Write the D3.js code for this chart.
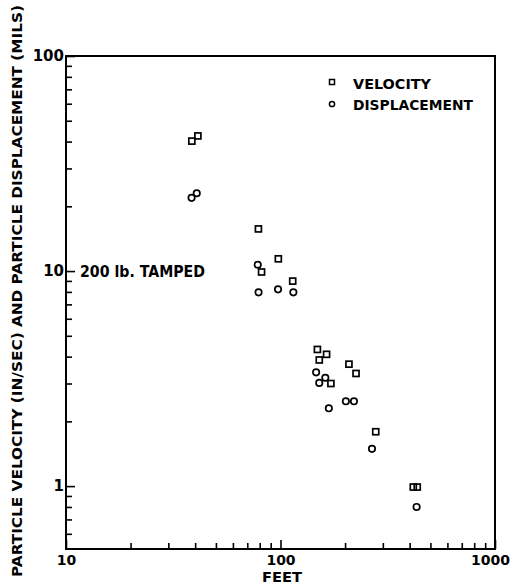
<!DOCTYPE html>
<html>
<head>
<meta charset="utf-8">
<script src="https://cdn.jsdelivr.net/npm/d3@7"></script>
<style>
  html, body { margin: 0; padding: 0; background: #fff; }
  svg { display: block; }
  text { font-family: "DejaVu Sans", "Liberation Sans", sans-serif; font-weight: bold; fill: #000; }
</style>
</head>
<body>
<script>
// ---- data ----
const velocityFeet   = [38.6, 41.2, 78.9, 97.7, 81.6, 114, 148.6, 164, 151.6, 208.5, 225, 171.8, 278, 416, 434];
const velocityValues = [40.2, 42.5, 15.7, 11.4, 9.9, 8.98, 4.32, 4.10, 3.86, 3.69, 3.34, 3.0, 1.79, 0.99, 0.99];
const displacementFeet   = [38.5, 40.7, 78.3, 79, 97.4, 114.8, 146.6, 161.8, 151.6, 201.7, 220, 168, 267, 431];
const displacementValues = [21.9, 23.0, 10.7, 7.96, 8.22, 7.96, 3.38, 3.19, 3.02, 2.48, 2.48, 2.30, 1.49, 0.80];
const xDomain = [10, 1000];
const yDomain = [0.51, 100];
const xMajorTicks = [10, 100, 1000];
const xMajorLabels = ["10", "100", "1000"];
const yMajorTicks = [1, 10, 100];
const yMajorLabels = ["1", "10", "100"];
const minorMultipliers = [2, 3, 4, 5, 6, 7, 8, 9];
const legendLabels = ["VELOCITY", "DISPLACEMENT"];
const annotationText = "200 lb. TAMPED";
const xTitle = "FEET";
const yTitle = "PARTICLE VELOCITY  (IN/SEC) AND PARTICLE DISPLACEMENT (MILS)";

// ---- layout ----
const W = 514, H = 585;
const pLeft = 66, pRight = 495, pTop = 56, pBottom = 549;
const numFont = "Liberation Sans";

const svg = d3.select("body").append("svg").attr("width", W).attr("height", H);

const x = d3.scaleLog().domain(xDomain).range([pLeft, pRight]);
const y = d3.scaleLog().domain(yDomain).range([pBottom, pTop]);

const xMinor = [];
[10, 100].forEach(d => minorMultipliers.forEach(m => xMinor.push(d * m)));
const yMinor = [];
[0.1, 1, 10].forEach(d => minorMultipliers.forEach(m => {
  const v = d * m;
  if (v >= yDomain[0] && v <= yDomain[1]) yMinor.push(v);
}));

// frame
svg.append("rect")
  .attr("x", pLeft).attr("y", pTop)
  .attr("width", pRight - pLeft).attr("height", pBottom - pTop)
  .attr("fill", "none").attr("stroke", "#000").attr("stroke-width", 2);

// x axis minor ticks
svg.append("g").attr("transform", `translate(0,${pBottom})`)
  .call(d3.axisBottom(x).tickValues(xMinor).tickSize(-6).tickFormat(""))
  .call(g => g.select(".domain").remove())
  .call(g => g.selectAll("line").attr("stroke-width", 1.6));
// x axis major
svg.append("g").attr("transform", `translate(0,${pBottom})`)
  .call(d3.axisBottom(x).tickValues(xMajorTicks).tickSize(-9).tickPadding(6)
    .tickFormat((d, i) => xMajorLabels[i]))
  .call(g => g.select(".domain").remove())
  .call(g => g.selectAll("line").attr("stroke-width", 1.6))
  .call(g => g.selectAll("text").attr("font-size", 14).attr("font-family", numFont).attr("font-weight", "bold").attr("fill", "#000"))
  .call(g => g.selectAll("text").filter(d => d === 1000).attr("dx", -5));

// y axis minor ticks
svg.append("g").attr("transform", `translate(${pLeft},0)`)
  .call(d3.axisLeft(y).tickValues(yMinor).tickSize(-6).tickFormat(""))
  .call(g => g.select(".domain").remove())
  .call(g => g.selectAll("line").attr("stroke-width", 1.6));
// y axis major
svg.append("g").attr("transform", `translate(${pLeft},0)`)
  .call(d3.axisLeft(y).tickValues(yMajorTicks).tickSize(-9).tickPadding(2)
    .tickFormat((d, i) => yMajorLabels[i]))
  .call(g => g.select(".domain").remove())
  .call(g => g.selectAll("line").attr("stroke-width", 1.6))
  .call(g => g.selectAll("text").attr("font-size", 15).attr("font-family", numFont).attr("font-weight", "bold").attr("fill", "#000"));

// titles
svg.append("text")
  .attr("x", 282).attr("y", 582)
  .attr("text-anchor", "middle").attr("font-size", 14)
  .attr("textLength", 40).attr("lengthAdjust", "spacingAndGlyphs")
  .text(xTitle);

svg.append("text")
  .attr("transform", `translate(22,291) rotate(-90)`)
  .attr("text-anchor", "middle").attr("font-size", 14)
  .attr("textLength", 572).attr("lengthAdjust", "spacingAndGlyphs")
  .text(yTitle);

// annotation
svg.append("text")
  .attr("x", 80).attr("y", 277)
  .attr("font-size", 15)
  .attr("textLength", 125).attr("lengthAdjust", "spacingAndGlyphs")
  .text(annotationText);

// data markers
const sq = 6;
svg.append("g").selectAll("rect")
  .data(velocityFeet.map((f, i) => [f, velocityValues[i]]))
  .join("rect")
  .attr("x", d => x(d[0]) - sq / 2).attr("y", d => y(d[1]) - sq / 2)
  .attr("width", sq).attr("height", sq)
  .attr("fill", "none").attr("stroke", "#000").attr("stroke-width", 1.7);

svg.append("g").selectAll("circle")
  .data(displacementFeet.map((f, i) => [f, displacementValues[i]]))
  .join("circle")
  .attr("cx", d => x(d[0])).attr("cy", d => y(d[1]))
  .attr("r", 3.2)
  .attr("fill", "none").attr("stroke", "#000").attr("stroke-width", 1.7);

// legend
const lg = svg.append("g");
lg.append("rect").attr("x", 332 - 2.5).attr("y", 82 - 2.5).attr("width", 5).attr("height", 5)
  .attr("fill", "none").attr("stroke", "#000").attr("stroke-width", 1.5);
lg.append("circle").attr("cx", 332).attr("cy", 104).attr("r", 2.6)
  .attr("fill", "none").attr("stroke", "#000").attr("stroke-width", 1.5);
lg.append("text").attr("x", 353).attr("y", 89).attr("font-size", 14)
  .attr("textLength", 78).attr("lengthAdjust", "spacingAndGlyphs").text(legendLabels[0]);
lg.append("text").attr("x", 353).attr("y", 110).attr("font-size", 14)
  .attr("textLength", 120).attr("lengthAdjust", "spacingAndGlyphs").text(legendLabels[1]);
</script>
</body>
</html>
